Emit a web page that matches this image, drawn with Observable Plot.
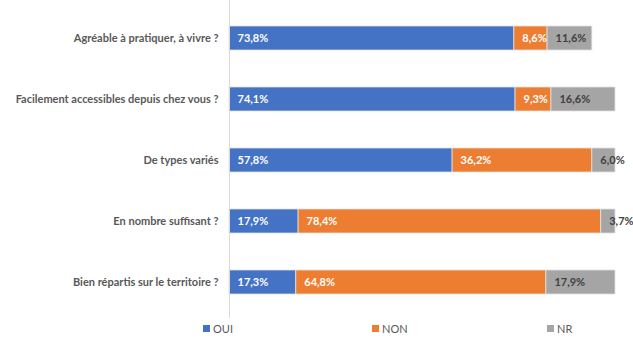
<!DOCTYPE html>
<html>
<head>
<meta charset="utf-8">
<script src="https://cdn.jsdelivr.net/npm/d3@7"></script>
<script src="https://cdn.jsdelivr.net/npm/@observablehq/plot@0.6"></script>
<style>
  body { margin: 0; background: #fff; font-family: Lato, "Open Sans", sans-serif; }
  #wrap { position: relative; width: 633px; height: 340px; }
  #legend { position: absolute; top: 319px; left: 0; width: 633px; height: 18px; font-size: 11px; color: #595959; }
  .li { position: absolute; top: 0; display: flex; align-items: center; height: 18px; }
  .sw { width: 7px; height: 7px; margin-right: 3px; }
</style>
</head>
<body>
<div id="wrap">
  <div id="chart"></div>
  <div id="legend"></div>
</div>
<script>
const categories = [
  "Agréable à pratiquer, à vivre ?",
  "Facilement accessibles depuis chez vous ?",
  "De types variés",
  "En nombre suffisant ?",
  "Bien répartis sur le territoire ?"
];
const series = ["OUI", "NON", "NR"];
const oui = [73.8, 74.1, 57.8, 17.9, 17.3];
const non = [8.6, 9.3, 36.2, 78.4, 64.8];
const nr  = [11.6, 16.6, 6.0, 3.7, 17.9];
const colors = ["#4472C4", "#ED7D31", "#A5A5A5"];
const labelColors = ["#ffffff", "#ffffff", "#404040"];
const legendX = [203, 372, 547];

const values = [oui, non, nr];
const data = [];
categories.forEach((c, i) => {
  series.forEach((s, j) => {
    data.push({cat: c, series: s, value: values[j][i], labelColor: labelColors[j]});
  });
});
const fmt = v => v.toFixed(1).replace(".", ",") + "%";

const chart = Plot.plot({
  width: 633,
  height: 318,
  marginLeft: 229,
  marginRight: 18,
  marginTop: 0,
  marginBottom: 0,
  style: {fontFamily: "Lato, sans-serif", background: "transparent"},
  x: {domain: [0, 100], axis: null},
  y: {domain: categories, range: [6, 314], paddingInner: 0.6, paddingOuter: 0.3, label: null},
  color: {domain: series, range: colors},
  marks: [
    Plot.barX(data, {x: "value", y: "cat", fill: "series", stroke: "#e2e2e2", strokeWidth: 0.8}),
    Plot.ruleX([0], {stroke: "#d9d9d9", strokeWidth: 1}),
    Plot.text(data, Plot.stackX1({
      x: "value", y: "cat", z: "series",
      text: d => fmt(d.value),
      textAnchor: "start", dx: 8,
      fill: "labelColor",
      fontSize: 11, fontWeight: "bold"
    })),
    Plot.axisY({tickSize: 0, tickPadding: 11, fontSize: 11, fontWeight: "bold", fill: "#595959", label: null})
  ]
});
document.getElementById("chart").appendChild(chart);

const legend = document.getElementById("legend");
series.forEach((s, j) => {
  const item = document.createElement("div");
  item.className = "li";
  item.style.left = legendX[j] + "px";
  const sw = document.createElement("div");
  sw.className = "sw";
  sw.style.background = colors[j];
  const t = document.createElement("span");
  t.textContent = s;
  item.appendChild(sw);
  item.appendChild(t);
  legend.appendChild(item);
});
</script>
</body>
</html>
